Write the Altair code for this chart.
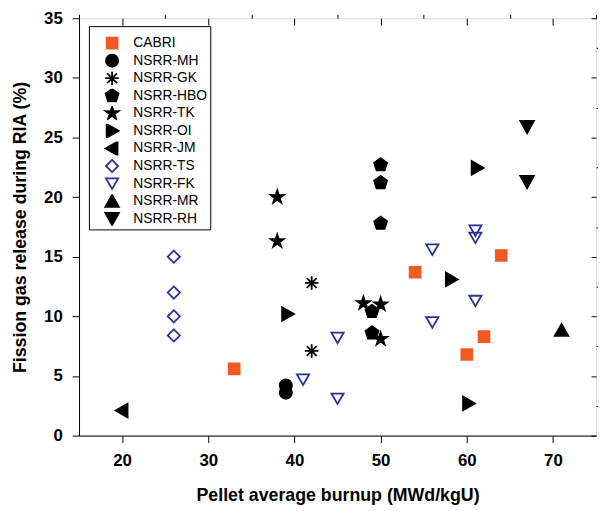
import altair as alt
import pandas as pd

# ---------------- data ----------------
series = ["CABRI", "NSRR-MH", "NSRR-GK", "NSRR-HBO", "NSRR-TK", "NSRR-OI",
          "NSRR-JM", "NSRR-TS", "NSRR-FK", "NSRR-MR", "NSRR-RH"]

cabri_x = [33, 54, 60, 62, 64]
cabri_y = [5.6, 13.7, 6.8, 8.3, 15.1]
mh_x = [39, 39]
mh_y = [4.2, 3.6]
gk_x = [42, 42]
gk_y = [12.8, 7.1]
hbo_x = [50, 50, 50, 49, 49]
hbo_y = [22.7, 21.2, 17.8, 10.4, 8.6]
tk_x = [38, 38, 48, 50, 50]
tk_y = [20.0, 16.3, 11.1, 11.0, 8.1]
oi_x = [39.2, 61.2, 58.2, 60.2]
oi_y = [10.2, 22.45, 13.1, 2.7]
jm_x = [20]
jm_y = [2.1]
ts_x = [26, 26, 26, 26]
ts_y = [15.0, 12.0, 10.0, 8.4]
fk_x = [41, 45, 45, 56, 56, 61, 61, 61]
fk_y = [4.7, 8.2, 3.1, 15.6, 9.5, 17.2, 16.6, 11.3]
mr_x = [71]
mr_y = [8.85]
rh_x = [67, 67]
rh_y = [25.9, 21.3]

x_major = [20, 30, 40, 50, 60, 70]
x_minor = [15, 25, 35, 45, 55, 65, 75]
y_major = [0, 5, 10, 15, 20, 25, 30, 35]
y_minor = [2.5, 7.5, 12.5, 17.5, 22.5, 27.5, 32.5]

xs_all = [cabri_x, mh_x, gk_x, hbo_x, tk_x, oi_x, jm_x, ts_x, fk_x, mr_x, rh_x]
ys_all = [cabri_y, mh_y, gk_y, hbo_y, tk_y, oi_y, jm_y, ts_y, fk_y, mr_y, rh_y]

rows = []
for name, xs, ys in zip(series, xs_all, ys_all):
    for xv, yv in zip(xs, ys):
        rows.append({"series": name, "x": xv, "y": yv})
df = pd.DataFrame(rows)

# ---------------- styles ----------------
ORANGE = "#f15a24"
BLUE = "#2e3192"
BLACK = "#000000"

square = "M-0.8,-0.8L0.8,-0.8L0.8,0.8L-0.8,0.8Z"
circle = "M0.9,0A0.9,0.9,0,1,1,-0.9,0A0.9,0.9,0,1,1,0.9,0Z"
asterisk = "M0,-1L0,1M-1,0L1,0M-0.72,-0.72L0.72,0.72M-0.72,0.72L0.72,-0.72"
pentagon = "M0,-1L0.951,-0.309L0.588,0.809L-0.588,0.809L-0.951,-0.309Z"
star = ("M0,-1L0.223,-0.307L0.951,-0.309L0.361,0.117L0.588,0.809L0,0.38"
        "L-0.588,0.809L-0.361,0.117L-0.951,-0.309L-0.223,-0.307Z")
tri_right = "M-0.8,-1L0.95,0L-0.8,1Z"
tri_left = "M0.8,-1L-0.95,0L0.8,1Z"
diamond = "M0,-0.9L0.9,0L0,0.9L-0.9,0Z"
tri_down_open = "M-0.9,-0.75L0.9,-0.75L0,0.8Z"
tri_up = "M-1,0.85L1,0.85L0,-0.9Z"
tri_down = "M-1,-0.85L1,-0.85L0,0.95Z"

shapes = [square, circle, asterisk, pentagon, star, tri_right, tri_left,
          diamond, tri_down_open, tri_up, tri_down]
fills = [ORANGE, BLACK, BLACK, BLACK, BLACK, BLACK, BLACK,
         "transparent", "transparent", BLACK, BLACK]
strokes = [ORANGE, BLACK, BLACK, BLACK, BLACK, BLACK, BLACK,
           BLUE, BLUE, BLACK, BLACK]

FONT = "Liberation Sans"
W, H = 524, 423

xsc = alt.Scale(domain=[15, 75], nice=False, zero=False)
ysc = alt.Scale(domain=[0, 35], nice=False)

legend = alt.Legend(
    title=" ", titleFontSize=6, titlePadding=1,
    orient="none", legendX=10, legendY=8, direction="vertical",
    fillColor="white", strokeColor="black", padding=3,
    symbolSize=190, symbolStrokeWidth=1.8, symbolOffset=12.5,
    labelFont=FONT, labelFontSize=14, labelColor="black",
    labelOffset=13.5, rowPadding=2.8, clipHeight=14.3,
)

base = alt.Chart(df)

points = base.mark_point(filled=True, opacity=1, size=190, strokeWidth=1.8).encode(
    x=alt.X("x:Q", scale=xsc, axis=alt.Axis(
        values=x_major, title="Pellet average burnup (MWd/kgU)", tickSize=7,
        labelFont=FONT, labelFontSize=17, labelFontWeight="bold", labelColor="black",
        titleFont=FONT, titleFontSize=18, titleFontWeight="bold", titleColor="black",
        labelPadding=10, titlePadding=19, grid=False,
        domainColor="black", tickColor="black", labelFlush=False)),
    y=alt.Y("y:Q", scale=ysc, axis=alt.Axis(
        values=y_major, title="Fission gas release during RIA (%)", tickSize=7,
        labelFont=FONT, labelFontSize=17, labelFontWeight="bold", labelColor="black",
        titleFont=FONT, titleFontSize=18, titleFontWeight="bold", titleColor="black",
        labelPadding=10, titlePadding=14, grid=False,
        domainColor="black", tickColor="black", labelFlush=False)),
    shape=alt.Shape("series:N", scale=alt.Scale(domain=series, range=shapes), legend=legend),
    fill=alt.Fill("series:N", scale=alt.Scale(domain=series, range=fills), legend=legend),
    stroke=alt.Stroke("series:N", scale=alt.Scale(domain=series, range=strokes), legend=legend),
)

minor = base.mark_point(opacity=0).encode(
    x=alt.X("x:Q", scale=xsc, axis=alt.Axis(
        values=x_minor, tickSize=4, labels=False, domain=False, grid=False,
        title=None, tickColor="black")),
    y=alt.Y("y:Q", scale=ysc, axis=alt.Axis(
        values=y_minor, tickSize=4, labels=False, domain=False, grid=False,
        title=None, tickColor="black")),
)

mirror = base.mark_point(opacity=0).encode(
    x=alt.X("x:Q", scale=xsc, axis=alt.Axis(
        orient="bottom", offset=-H, values=x_major, tickSize=7, labels=False,
        domain=False, grid=False, title=None, tickColor="black")),
    y=alt.Y("y:Q", scale=ysc, axis=alt.Axis(
        orient="left", offset=-W, values=y_major, tickSize=5, labels=False,
        domain=False, grid=False, title=None, tickColor="black")),
)

chart = alt.layer(points, minor, mirror).resolve_axis(
    x="independent", y="independent"
).properties(
    width=W, height=H,
    autosize=alt.AutoSizeParams(type="none"),
    padding={"left": 72, "top": 7, "right": 2, "bottom": 70},
).configure_view(stroke="black", strokeWidth=1).configure(background="white")

chart.save("out.html", embed_options={"renderer": "svg", "actions": False})
